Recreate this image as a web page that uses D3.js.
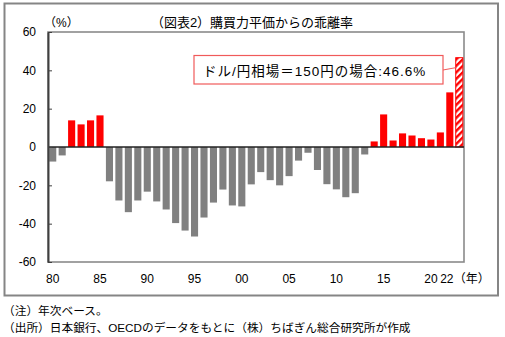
<!DOCTYPE html>
<html>
<head>
<meta charset="utf-8">
<script src="https://cdn.jsdelivr.net/npm/d3@7.9.0/dist/d3.min.js"></script>
<style>
  html, body { margin: 0; padding: 0; background: #fff; }
  svg { display: block; }
  text { font-family: "Liberation Sans", "Noto Sans CJK JP", sans-serif; fill: #000; }
</style>
</head>
<body>
<div id="chart"></div>
<script>
const years = [
  1980, 1981, 1982, 1983, 1984, 1985, 1986, 1987, 1988, 1989,
  1990, 1991, 1992, 1993, 1994, 1995, 1996, 1997, 1998, 1999,
  2000, 2001, 2002, 2003, 2004, 2005, 2006, 2007, 2008, 2009,
  2010, 2011, 2012, 2013, 2014, 2015, 2016, 2017, 2018, 2019,
  2020, 2021, 2022, 2023
];

// deviation from PPP (%)
const deviation = [
  -7.6, -4.4, 13.9, 11.8, 13.9, 16.5, -17.9, -27.9, -34.0, -27.9,
  -23.3, -28.4, -32.6, -39.7, -43.6, -46.7, -36.8, -29.0, -22.2, -30.5,
  -31.0, -19.5, -13.1, -17.3, -20.0, -15.2, -7.1, -3.0, -12.0, -19.4,
  -22.1, -26.2, -24.1, -3.9, 2.9, 17.0, 3.4, 7.1, 6.0, 4.6,
  3.9, 7.6, 28.5, 46.6
];

// last year is the 150 yen/dollar case
const estimateYear = 2023;

const yTicks = [-60, -40, -20, 0, 20, 40, 60];
const xTicks = [1980, 1985, 1990, 1995, 2000, 2005, 2010, 2015, 2020, 2022];
const xTickLabels = ['80', '85', '90', '95', '00', '05', '10', '15', '20', '22'];

const title = '（図表2）購買力平価からの乖離率';
const calloutText = 'ドル/円相場＝150円の場合:46.6%';
const notes = [
  '（注）年次ベース。',
  '（出所）日本銀行、OECDのデータをもとに（株）ちばぎん総合研究所が作成'
];

const data = years.map((year, i) => ({ year, value: deviation[i] }));

const width = 505;
const height = 337;
const plot = { left: 48, right: 464, top: 32, bottom: 262 };

const svg = d3.select('#chart')
  .append('svg')
  .attr('width', width)
  .attr('height', height);

const defs = svg.append('defs');
const hatch = defs.append('pattern')
  .attr('id', 'hatch')
  .attr('patternUnits', 'userSpaceOnUse')
  .attr('width', 4.6)
  .attr('height', 4.6)
  .attr('patternTransform', 'rotate(45)');
hatch.append('rect')
  .attr('width', 4.6)
  .attr('height', 4.6)
  .attr('fill', '#fff');
hatch.append('line')
  .attr('x1', 1.2).attr('y1', 0)
  .attr('x2', 1.2).attr('y2', 4.6)
  .attr('stroke', '#ff0000')
  .attr('stroke-width', 2.4);

// outer frame
svg.append('rect')
  .attr('x', 4.5)
  .attr('y', 3.5)
  .attr('width', 493.5)
  .attr('height', 292)
  .attr('fill', 'none')
  .attr('stroke', '#858585')
  .attr('stroke-width', 2);

const x = d3.scaleBand()
  .domain(years)
  .range([plot.left, plot.right])
  .paddingInner(0.25)
  .paddingOuter(0.125);

const y = d3.scaleLinear()
  .domain([-60, 60])
  .range([plot.bottom, plot.top]);

// plot area border
svg.append('rect')
  .attr('x', plot.left)
  .attr('y', plot.top)
  .attr('width', plot.right - plot.left)
  .attr('height', plot.bottom - plot.top)
  .attr('fill', 'none')
  .attr('stroke', '#8a8a8a')
  .attr('stroke-width', 1.6);

// bars
svg.append('g')
  .selectAll('rect')
  .data(data)
  .join('rect')
  .attr('x', d => x(d.year))
  .attr('width', x.bandwidth())
  .attr('y', d => y(Math.max(0, d.value)))
  .attr('height', d => Math.abs(y(d.value) - y(0)))
  .attr('fill', d => d.year === estimateYear ? 'url(#hatch)' : (d.value >= 0 ? '#ff0000' : '#808080'))
  .attr('stroke', d => d.year === estimateYear ? '#ff0000' : 'none')
  .attr('stroke-width', 1);

// zero line
svg.append('line')
  .attr('x1', plot.left)
  .attr('x2', plot.right)
  .attr('y1', y(0))
  .attr('y2', y(0))
  .attr('stroke', '#222')
  .attr('stroke-width', 1.5);

// y axis
const yAxis = svg.append('g')
  .attr('transform', `translate(${plot.left},0)`)
  .call(d3.axisLeft(y)
    .tickValues(yTicks)
    .tickSizeInner(-4)
    .tickSizeOuter(0)
    .tickPadding(12)
    .tickFormat(d => String(d)));
yAxis.select('.domain').attr('stroke', '#404040').attr('stroke-width', 2);
yAxis.selectAll('.tick line').attr('stroke', '#404040');
yAxis.selectAll('.tick text')
  .attr('font-size', 12)
  .attr('font-family', '"Liberation Sans", sans-serif');

// x axis labels
const xAxis = svg.append('g')
  .attr('transform', `translate(0,${plot.bottom})`)
  .call(d3.axisBottom(x)
    .tickValues(xTicks)
    .tickSize(0)
    .tickPadding(12)
    .tickFormat(d => xTickLabels[xTicks.indexOf(d)]));
xAxis.select('.domain').remove();
xAxis.selectAll('.tick text')
  .attr('font-size', 12)
  .attr('font-family', '"Liberation Sans", sans-serif')
  .attr('dx', d => d === 2022 ? -3 : 0);

svg.append('text')
  .attr('x', x(2022) + x.bandwidth() / 2 + 4)
  .attr('y', 283)
  .attr('font-size', 12)
  .text('（年）');

// titles
svg.append('text')
  .attr('x', 252)
  .attr('y', 27)
  .attr('text-anchor', 'middle')
  .attr('font-size', 13)
  .text(title);

svg.append('text')
  .attr('x', 44)
  .attr('y', 27)
  .attr('font-size', 12)
  .text('（%）');

// callout for the 150 yen case
const last = data[data.length - 1];
const lastX = x(last.year);
svg.append('line')
  .attr('x1', 443)
  .attr('y1', 70)
  .attr('x2', lastX)
  .attr('y2', y(last.value) + 10)
  .attr('stroke', '#f05a5a')
  .attr('stroke-width', 1);

svg.append('rect')
  .attr('x', 194)
  .attr('y', 55.5)
  .attr('width', 249)
  .attr('height', 28.5)
  .attr('fill', '#fff')
  .attr('stroke', '#f05a5a')
  .attr('stroke-width', 1.2);

svg.append('text')
  .attr('x', 203)
  .attr('y', 75.5)
  .attr('font-size', 13.5)
  .attr('letter-spacing', 1)
  .text(calloutText);

// notes
svg.selectAll('text.note')
  .data(notes)
  .join('text')
  .attr('class', 'note')
  .attr('x', 3)
  .attr('y', (d, i) => 315 + i * 17)
  .attr('font-size', 11.7)
  .text(d => d);
</script>
</body>
</html>
